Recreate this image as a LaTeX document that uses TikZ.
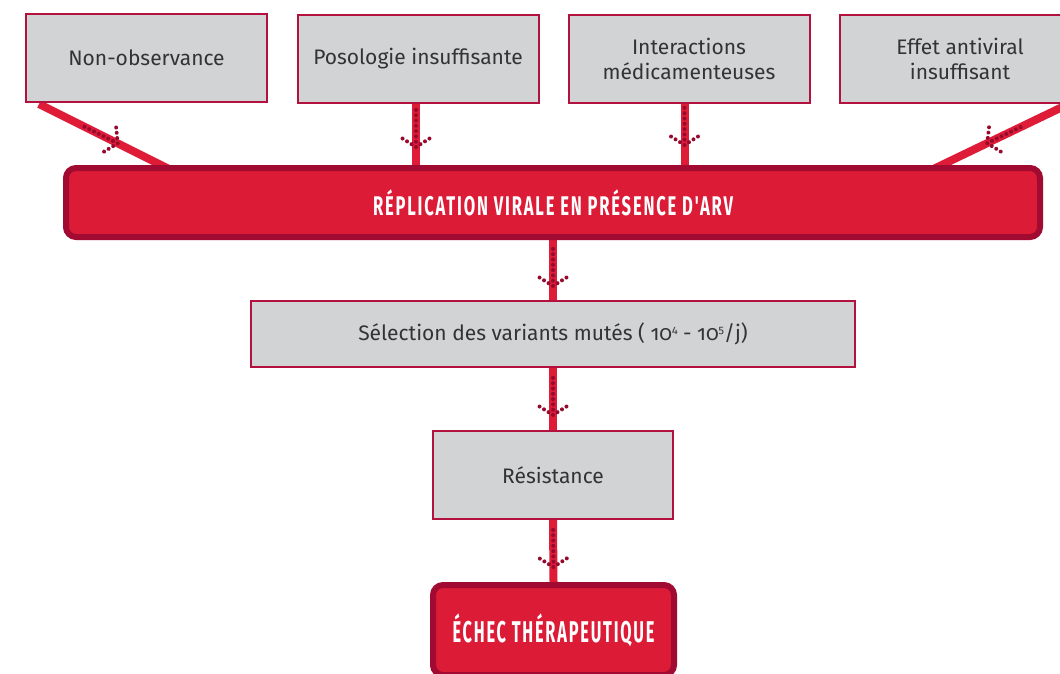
\documentclass[tikz,border=0pt]{standalone}
\usepackage{fontspec}
\setmainfont{Fira Sans}
\newfontfamily\condfont{Fira Sans}[Ligatures=TeXOff, LetterSpace=11]
\usetikzlibrary{decorations.markings,calc}
\definecolor{boxgray}{HTML}{D1D3D4}
\definecolor{boxline}{HTML}{B3123F}
\definecolor{barfill}{HTML}{DC1B36}
\definecolor{barline}{HTML}{A10A31}
\definecolor{txt}{HTML}{333333}
\definecolor{conncol}{HTML}{DE1C38}
\definecolor{dotcol}{HTML}{960A2E}
\pgfdeclarelayer{bg}
\pgfsetlayers{bg,main}
\newcommand{\supnum}[1]{\raisebox{7pt}{\fontsize{11}{11}\selectfont #1}}
\tikzset{
  graybox/.style={draw=boxline, line width=2pt, fill=boxgray, text=txt, align=center,
    font=\fontsize{21}{25}\selectfont, inner sep=0pt},
  redbox/.style={draw=barline, line width=6pt, fill=barfill, rounded corners=10pt,
    text=white, inner sep=0pt},
  dotmark/.style={fill=dotcol},
  conn/.style={draw=conncol, line width=8pt, postaction={decorate},
    decoration={markings, mark=at position #1 with {
      \foreach \i in {0,...,7} {\fill[dotmark] (-\i*5.3pt,0pt) circle (2pt);}
      \foreach \i in {1,2,3} {
        \fill[dotmark] (-\i*2.83pt,\i*4.49pt) circle (2pt);
        \fill[dotmark] (-\i*2.83pt,-\i*4.49pt) circle (2pt);}}}},
}
\begin{document}
\begin{tikzpicture}[x=1pt,y=-1pt]
\useasboundingbox (0,0) rectangle (1060,673);
% top boxes
\node[graybox, minimum width=241pt, minimum height=88pt] (c1) at (146.5,58) {Non-observance};
\node[graybox, minimum width=241pt, minimum height=88pt] (c2) at (418,59) {Posologie insuffisante};
\node[graybox, minimum width=241pt, minimum height=88pt] (c3) at (689,59) {Interactions\\médicamenteuses};
\node[graybox, minimum width=241pt, minimum height=88pt] (c4) at (960,59) {Effet antiviral\\insuffisant};
% main bar
\node[redbox, minimum width=974pt, minimum height=69pt] (bar) at (553,202.5)
  {\resizebox{360pt}{\height}{\condfont\fontsize{27}{27}\selectfont\bfseries RÉPLICATION VIRALE EN PRÉSENCE D'ARV}};
% lower boxes
\node[graybox, minimum width=604pt, minimum height=66pt] (sel) at (553,334)
  {Sélection des variants mutés ( {\addfontfeatures{Numbers=OldStyle}10\supnum{4} - 10\supnum{5}}/j)};
\node[graybox, minimum width=240pt, minimum height=88pt] (res) at (553,475) {Résistance};
\node[redbox, minimum width=241pt, minimum height=90pt] (echec) at (553.5,630)
  {\resizebox{202pt}{\height}{\condfont\fontsize{30}{30}\selectfont\bfseries ÉCHEC THÉRAPEUTIQUE}};
% connectors
\coordinate (l1s) at ($(c1.south west)+(14,1)$);
\coordinate (l1e) at (181,175);
\coordinate (r1s) at ($(c4.south east)+(-15,1)$);
\coordinate (r1e) at (921,175);
\begin{pgfonlayer}{bg}
\draw[conn=88pt] (l1s) -- (l1e);
\draw[conn=88pt] (r1s) -- (r1e);
\draw[conn=-18pt] ([xshift=-2pt]c2.south) -- ([xshift=-2pt]c2.south |- bar.north);
\draw[conn=-20pt] ([xshift=-4.5pt]c3.south) -- ([xshift=-4.5pt]c3.south |- bar.north);
\draw[conn=-14pt] (bar.south) -- (sel.north);
\draw[conn=-15pt] (sel.south) -- (res.north);
\draw[conn=-15pt] (res.south) -- (echec.north);
\end{pgfonlayer}
\end{tikzpicture}
\end{document}
